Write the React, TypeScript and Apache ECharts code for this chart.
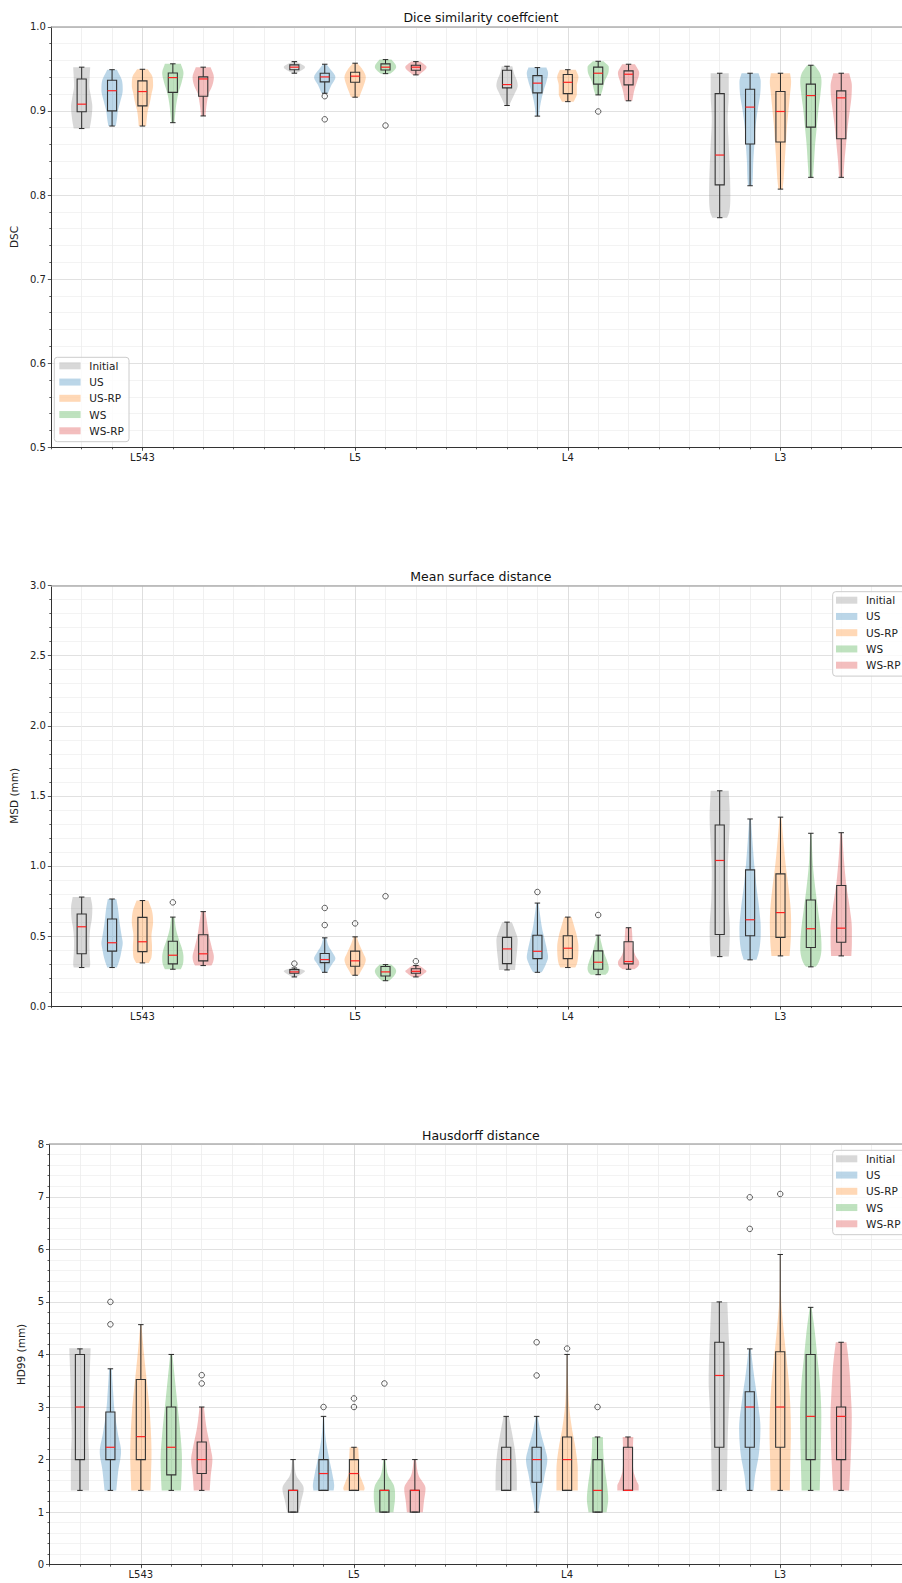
import React, { useEffect, useRef } from 'react';
import * as echarts from 'echarts';

// ---------------- data ----------------
const groups = ['L543', 'L5', 'L4', 'L3'];
const methods = ['Initial', 'US', 'US-RP', 'WS', 'WS-RP'];
const groupCenters = [0, 7, 14, 21];
const methodOffsets = [-2, -1, 0, 1, 2];

const titles = ['Dice similarity coeffcient', 'Mean surface distance', 'Hausdorff distance'];
const yNames = ['DSC', 'MSD (mm)', 'HD99 (mm)'];
const yMins = [0.5, 0, 0];
const yMaxs = [1.0, 3.0, 8];
const yIntervals = [0.1, 0.5, 1];
const yDecimals = [1, 1, 0];

// box stats: [whiskerLow, q1, median, q3, whiskerHigh], group-major / method-minor
const dscBoxes = [
  [0.879, 0.899, 0.908, 0.938, 0.952],
  [0.882, 0.900, 0.924, 0.9365, 0.949],
  [0.882, 0.906, 0.923, 0.9357, 0.9495],
  [0.886, 0.922, 0.9396, 0.945, 0.956],
  [0.894, 0.9175, 0.938, 0.9404, 0.952],
  [0.9448, 0.949, 0.952, 0.9547, 0.9586],
  [0.921, 0.9345, 0.9404, 0.9448, 0.9555],
  [0.9163, 0.934, 0.9413, 0.946, 0.9567],
  [0.9443, 0.9487, 0.952, 0.9559, 0.961],
  [0.9428, 0.9484, 0.952, 0.9543, 0.9586],
  [0.9064, 0.9274, 0.9313, 0.9484, 0.9531],
  [0.8938, 0.9214, 0.933, 0.942, 0.9515],
  [0.911, 0.9206, 0.934, 0.9432, 0.949],
  [0.919, 0.9318, 0.9448, 0.952, 0.959],
  [0.912, 0.931, 0.9436, 0.9476, 0.9555],
  [0.773, 0.812, 0.8475, 0.9206, 0.9448],
  [0.811, 0.8606, 0.9045, 0.9258, 0.9448],
  [0.807, 0.863, 0.8993, 0.923, 0.9448],
  [0.821, 0.8807, 0.9182, 0.9318, 0.9543],
  [0.821, 0.8669, 0.9155, 0.9238, 0.9448],
];
// outliers: [groupIndex, methodIndex, value]
const dscOutliers = [
  [1, 1, 0.9175], [1, 1, 0.890], [1, 3, 0.8826], [2, 3, 0.8993],
];
// violin profiles: [value, relative width]
const dscViolins = [
  [[0.952, 0.8], [0.94, 0.75], [0.93, 0.72], [0.915, 0.9], [0.905, 1.0], [0.89, 0.9], [0.879, 0.75]],
  [[0.949, 0.45], [0.935, 0.95], [0.925, 1.0], [0.91, 0.75], [0.90, 0.55], [0.89, 0.45], [0.882, 0.35]],
  [[0.9495, 0.5], [0.94, 0.95], [0.93, 1.0], [0.92, 0.85], [0.91, 0.7], [0.90, 0.5], [0.89, 0.4], [0.882, 0.35]],
  [[0.956, 0.75], [0.945, 1.0], [0.935, 0.85], [0.92, 0.5], [0.91, 0.35], [0.90, 0.25], [0.886, 0.15]],
  [[0.952, 0.7], [0.94, 1.0], [0.93, 0.85], [0.92, 0.5], [0.91, 0.35], [0.90, 0.25], [0.894, 0.2]],
  [[0.9586, 0.2], [0.952, 1.0], [0.9448, 0.2]],
  [[0.9555, 0.15], [0.95, 0.5], [0.94, 1.0], [0.93, 0.6], [0.921, 0.3]],
  [[0.9567, 0.2], [0.95, 0.65], [0.94, 1.0], [0.93, 0.8], [0.92, 0.5], [0.9163, 0.4]],
  [[0.961, 0.55], [0.955, 0.95], [0.952, 1.0], [0.948, 0.8], [0.9443, 0.45]],
  [[0.9586, 0.45], [0.952, 1.0], [0.9428, 0.3]],
  [[0.9531, 0.5], [0.945, 0.65], [0.935, 0.95], [0.93, 1.0], [0.92, 0.7], [0.912, 0.4], [0.9064, 0.2]],
  [[0.9515, 0.85], [0.945, 1.0], [0.935, 0.85], [0.925, 0.6], [0.915, 0.4], [0.905, 0.25], [0.8938, 0.15]],
  [[0.949, 0.75], [0.94, 1.0], [0.93, 0.85], [0.92, 0.85], [0.911, 0.55]],
  [[0.959, 0.5], [0.952, 1.0], [0.945, 0.95], [0.935, 0.6], [0.925, 0.4], [0.919, 0.25]],
  [[0.9555, 0.6], [0.945, 1.0], [0.935, 0.8], [0.925, 0.55], [0.912, 0.35]],
  [[0.9448, 0.85], [0.92, 0.85], [0.89, 0.75], [0.86, 0.85], [0.83, 0.95], [0.80, 1.0], [0.78, 0.9], [0.773, 0.7]],
  [[0.9448, 0.8], [0.935, 1.0], [0.92, 0.95], [0.90, 0.7], [0.88, 0.5], [0.86, 0.4], [0.84, 0.3], [0.82, 0.25], [0.811, 0.2]],
  [[0.9448, 0.9], [0.935, 1.0], [0.92, 0.9], [0.90, 0.75], [0.88, 0.6], [0.86, 0.5], [0.84, 0.4], [0.82, 0.3], [0.807, 0.2]],
  [[0.9543, 0.35], [0.945, 0.85], [0.935, 1.0], [0.92, 0.9], [0.90, 0.7], [0.88, 0.55], [0.86, 0.4], [0.84, 0.3], [0.821, 0.2]],
  [[0.9448, 0.75], [0.93, 1.0], [0.915, 0.95], [0.90, 0.8], [0.88, 0.6], [0.86, 0.45], [0.84, 0.3], [0.821, 0.2]],
];

const msdBoxes = [
  [0.275, 0.373, 0.566, 0.657, 0.778],
  [0.275, 0.392, 0.452, 0.621, 0.764],
  [0.308, 0.389, 0.459, 0.633, 0.753],
  [0.263, 0.301, 0.363, 0.463, 0.635],
  [0.289, 0.323, 0.373, 0.509, 0.674],
  [0.208, 0.234, 0.244, 0.260, 0.272],
  [0.241, 0.310, 0.332, 0.375, 0.487],
  [0.22, 0.284, 0.323, 0.392, 0.494],
  [0.181, 0.215, 0.244, 0.282, 0.296],
  [0.208, 0.234, 0.248, 0.267, 0.289],
  [0.258, 0.303, 0.408, 0.490, 0.599],
  [0.241, 0.339, 0.391, 0.506, 0.735],
  [0.275, 0.339, 0.413, 0.502, 0.635],
  [0.224, 0.263, 0.313, 0.394, 0.506],
  [0.263, 0.301, 0.318, 0.459, 0.559],
  [0.353, 0.511, 1.039, 1.292, 1.536],
  [0.33, 0.502, 0.616, 0.972, 1.335],
  [0.358, 0.49, 0.667, 0.943, 1.348],
  [0.28, 0.418, 0.552, 0.757, 1.233],
  [0.358, 0.456, 0.556, 0.86, 1.237],
];
const msdOutliers = [
  [0, 3, 0.74], [1, 0, 0.303], [1, 1, 0.70], [1, 1, 0.578], [1, 2, 0.59],
  [1, 3, 0.784], [1, 4, 0.32], [2, 1, 0.814], [2, 3, 0.65],
];
const msdViolins = [
  [[0.778, 0.85], [0.70, 1.0], [0.62, 0.95], [0.55, 0.8], [0.45, 0.72], [0.37, 0.75], [0.30, 0.8], [0.275, 0.75]],
  [[0.764, 0.4], [0.70, 0.55], [0.60, 0.7], [0.50, 0.9], [0.45, 1.0], [0.40, 0.9], [0.33, 0.7], [0.275, 0.45]],
  [[0.753, 0.55], [0.68, 0.9], [0.60, 1.0], [0.50, 0.85], [0.42, 0.9], [0.35, 0.85], [0.308, 0.6]],
  [[0.635, 0.15], [0.55, 0.3], [0.48, 0.55], [0.40, 0.9], [0.35, 1.0], [0.30, 0.95], [0.263, 0.75]],
  [[0.674, 0.2], [0.60, 0.35], [0.50, 0.55], [0.42, 0.8], [0.35, 1.0], [0.30, 0.85], [0.289, 0.75]],
  [[0.272, 0.3], [0.25, 1.0], [0.235, 0.8], [0.208, 0.2]],
  [[0.487, 0.15], [0.43, 0.35], [0.38, 0.75], [0.34, 1.0], [0.30, 0.7], [0.27, 0.45], [0.241, 0.25]],
  [[0.494, 0.15], [0.44, 0.4], [0.38, 0.75], [0.33, 1.0], [0.29, 0.85], [0.25, 0.55], [0.22, 0.35]],
  [[0.296, 0.55], [0.27, 0.9], [0.25, 1.0], [0.22, 0.85], [0.195, 0.55], [0.181, 0.35]],
  [[0.289, 0.35], [0.26, 0.85], [0.25, 1.0], [0.23, 0.75], [0.208, 0.35]],
  [[0.599, 0.45], [0.54, 0.75], [0.47, 1.0], [0.40, 0.95], [0.33, 0.85], [0.258, 0.75]],
  [[0.735, 0.1], [0.65, 0.25], [0.55, 0.45], [0.47, 0.7], [0.40, 0.9], [0.35, 1.0], [0.30, 0.8], [0.26, 0.55], [0.241, 0.4]],
  [[0.635, 0.35], [0.57, 0.6], [0.50, 0.85], [0.42, 1.0], [0.34, 0.95], [0.30, 0.85], [0.275, 0.7]],
  [[0.506, 0.12], [0.45, 0.3], [0.38, 0.55], [0.32, 0.85], [0.27, 1.0], [0.24, 0.9], [0.224, 0.7]],
  [[0.559, 0.3], [0.50, 0.35], [0.42, 0.4], [0.36, 0.65], [0.31, 1.0], [0.28, 0.85], [0.263, 0.55]],
  [[1.536, 0.85], [1.35, 0.95], [1.15, 0.85], [0.95, 0.75], [0.75, 0.8], [0.55, 0.95], [0.40, 0.9], [0.353, 0.85]],
  [[1.335, 0.08], [1.2, 0.2], [1.0, 0.4], [0.85, 0.6], [0.70, 0.85], [0.55, 1.0], [0.45, 0.95], [0.38, 0.8], [0.33, 0.6]],
  [[1.348, 0.08], [1.2, 0.25], [1.0, 0.5], [0.85, 0.75], [0.70, 0.95], [0.60, 1.0], [0.45, 0.95], [0.358, 0.85]],
  [[1.233, 0.05], [1.0, 0.2], [0.85, 0.4], [0.70, 0.65], [0.55, 0.9], [0.42, 1.0], [0.35, 0.9], [0.30, 0.65], [0.28, 0.45]],
  [[1.237, 0.08], [1.0, 0.3], [0.85, 0.5], [0.70, 0.8], [0.55, 1.0], [0.45, 1.0], [0.358, 0.95]],
];

const hdBoxes = [
  [1.414, 2.0, 3.0, 4.0, 4.106],
  [1.414, 2.0, 2.234, 2.904, 3.727],
  [1.414, 2.0, 2.436, 3.524, 4.567],
  [1.414, 1.708, 2.234, 3.0, 4.0],
  [1.414, 1.734, 2.0, 2.334, 3.0],
  [1.0, 1.0, 1.414, 1.414, 2.0],
  [1.414, 1.414, 1.734, 2.0, 2.822],
  [1.414, 1.414, 1.734, 2.0, 2.234],
  [1.0, 1.0, 1.414, 1.414, 2.0],
  [1.0, 1.0, 1.414, 1.414, 2.0],
  [1.414, 1.414, 2.0, 2.234, 2.822],
  [1.0, 1.569, 2.0, 2.234, 2.822],
  [1.414, 1.414, 2.0, 2.43, 4.0],
  [1.0, 1.0, 1.414, 2.0, 2.43],
  [1.414, 1.414, 1.414, 2.234, 2.43],
  [1.414, 2.234, 3.6, 4.232, 5.0],
  [1.414, 2.234, 3.0, 3.29, 4.106],
  [1.414, 2.234, 3.0, 4.05, 5.902],
  [1.414, 2.0, 2.822, 4.0, 4.896],
  [1.414, 2.0, 2.822, 3.0, 4.232],
];
const hdOutliers = [
  [0, 1, 5.0], [0, 1, 4.573], [0, 4, 3.606], [0, 4, 3.448],
  [1, 1, 3.0], [1, 2, 3.0], [1, 2, 3.163], [1, 3, 3.448],
  [2, 1, 4.232], [2, 1, 3.6], [2, 2, 4.112], [2, 3, 3.0],
  [3, 1, 6.99], [3, 1, 6.389], [3, 2, 7.053],
];
const hdViolins = [
  [[4.12, 1.0], [3.5, 0.9], [3.0, 0.85], [2.5, 0.78], [2.0, 0.85], [1.414, 0.85]],
  [[3.73, 0.12], [3.3, 0.25], [2.9, 0.4], [2.5, 0.7], [2.15, 1.0], [1.8, 0.75], [1.414, 0.55]],
  [[4.567, 0.05], [4.0, 0.3], [3.5, 0.55], [3.0, 0.8], [2.5, 0.95], [2.1, 1.0], [1.7, 0.95], [1.414, 0.9]],
  [[4.0, 0.1], [3.5, 0.35], [3.0, 0.6], [2.5, 0.85], [2.0, 1.0], [1.6, 0.95], [1.414, 0.9]],
  [[3.0, 0.2], [2.6, 0.45], [2.2, 0.85], [2.0, 1.0], [1.7, 0.85], [1.414, 0.75]],
  [[2.0, 0.08], [1.7, 0.3], [1.45, 1.0], [1.2, 0.75], [1.0, 0.55]],
  [[2.822, 0.05], [2.4, 0.2], [2.0, 0.55], [1.7, 0.85], [1.5, 1.0], [1.414, 0.95]],
  [[2.236, 0.4], [2.0, 0.45], [1.75, 0.5], [1.55, 0.85], [1.45, 1.0], [1.414, 0.95]],
  [[2.0, 0.1], [1.7, 0.35], [1.5, 0.9], [1.3, 1.0], [1.0, 0.85]],
  [[2.0, 0.1], [1.7, 0.35], [1.45, 1.0], [1.2, 0.85], [1.0, 0.75]],
  [[2.822, 0.25], [2.5, 0.55], [2.2, 0.8], [1.9, 0.95], [1.6, 1.0], [1.414, 1.0]],
  [[2.822, 0.08], [2.5, 0.4], [2.2, 0.8], [2.0, 1.0], [1.7, 0.75], [1.414, 0.5], [1.2, 0.3], [1.0, 0.15]],
  [[4.0, 0.03], [3.5, 0.08], [3.0, 0.2], [2.6, 0.45], [2.2, 0.8], [1.8, 1.0], [1.414, 1.0]],
  [[2.43, 0.5], [2.1, 0.55], [1.8, 0.7], [1.5, 0.9], [1.25, 1.0], [1.0, 0.85]],
  [[2.43, 0.5], [2.1, 0.45], [1.8, 0.5], [1.6, 0.8], [1.5, 1.0], [1.414, 1.0]],
  [[5.0, 0.75], [4.5, 0.85], [4.0, 0.95], [3.5, 1.0], [3.0, 0.9], [2.5, 0.8], [2.0, 0.75], [1.414, 0.7]],
  [[4.106, 0.1], [3.6, 0.4], [3.1, 0.75], [2.6, 1.0], [2.1, 0.85], [1.7, 0.5], [1.414, 0.35]],
  [[5.902, 0.02], [5.0, 0.1], [4.5, 0.3], [4.0, 0.55], [3.5, 0.8], [3.0, 0.95], [2.5, 1.0], [2.0, 0.95], [1.414, 0.9]],
  [[4.896, 0.08], [4.5, 0.35], [4.0, 0.6], [3.5, 0.85], [2.8, 1.0], [2.2, 0.95], [1.8, 0.9], [1.414, 0.85]],
  [[4.232, 0.5], [3.8, 0.75], [3.3, 0.9], [2.8, 1.0], [2.3, 0.95], [1.8, 0.85], [1.414, 0.75]],
];

const panelBoxes = [dscBoxes, msdBoxes, hdBoxes];
const panelOutliers = [dscOutliers, msdOutliers, hdOutliers];
const panelViolins = [dscViolins, msdViolins, hdViolins];

// ---------------- style / layout ----------------
const fillColors = [
  'rgba(127,127,127,0.3)',
  'rgba(31,119,180,0.3)',
  'rgba(255,127,14,0.3)',
  'rgba(44,160,44,0.3)',
  'rgba(214,39,40,0.3)',
];
const FONT = '"DejaVu Sans", "Liberation Sans", sans-serif';
const W = 902;
const H = 1583;
const gridLeft = 49.5;
const gridRight = -10.3;
const gridHeight = 420.5;
const panelTops = [26.8, 585.6, 1144.2];
const nameGaps = [27, 27, 16.8];
const X_MIN = -3;
const X_MAX = 25;
const VHALF = 0.35;
const BHALF = 0.15;
const CAPHALF = 0.09;
const legendBoxes = [
  { left: 54.3, top: 357.3, patchOff: 5 },
  { left: 832.7, top: 591.7, patchOff: 3.3 },
  { left: 832.7, top: 1150.3, patchOff: 3.3 },
];

function sampleProfile(profile: number[][]) {
  const pts = profile.slice().sort((a, b) => a[0] - b[0]);
  const n = pts.length;
  const xs = pts.map((p) => p[0]);
  const ys = pts.map((p) => p[1]);
  if (n < 2) return pts;
  const d: number[] = [];
  for (let i = 0; i < n - 1; i++) d.push((ys[i + 1] - ys[i]) / (xs[i + 1] - xs[i]));
  const m: number[] = new Array(n).fill(0);
  m[0] = d[0];
  m[n - 1] = d[n - 2];
  for (let i = 1; i < n - 1; i++) {
    m[i] = d[i - 1] * d[i] <= 0 ? 0 : (d[i - 1] + d[i]) / 2;
  }
  for (let i = 0; i < n - 1; i++) {
    if (d[i] === 0) {
      m[i] = 0;
      m[i + 1] = 0;
    } else {
      const a = m[i] / d[i];
      const b = m[i + 1] / d[i];
      const s = a * a + b * b;
      if (s > 9) {
        const t = 3 / Math.sqrt(s);
        m[i] = t * a * d[i];
        m[i + 1] = t * b * d[i];
      }
    }
  }
  const out: number[][] = [];
  const steps = 10;
  for (let i = 0; i < n - 1; i++) {
    const h = xs[i + 1] - xs[i];
    for (let k = 0; k < steps; k++) {
      const t = k / steps;
      const t2 = t * t;
      const t3 = t2 * t;
      const h00 = 2 * t3 - 3 * t2 + 1;
      const h10 = t3 - 2 * t2 + t;
      const h01 = -2 * t3 + 3 * t2;
      const h11 = t3 - t2;
      const w = h00 * ys[i] + h10 * h * m[i] + h01 * ys[i + 1] + h11 * h * m[i + 1];
      out.push([xs[i] + t * h, Math.max(0, w)]);
    }
  }
  out.push([xs[n - 1], ys[n - 1]]);
  return out;
}

function positionOf(i: number) {
  return groupCenters[Math.floor(i / methods.length)] + methodOffsets[i % methods.length];
}

function makeViolinSeries(k: number) {
  const boxes = panelBoxes[k];
  const violins = panelViolins[k];
  return {
    type: 'custom',
    name: 'violins-' + k,
    xAxisIndex: 3 * k,
    yAxisIndex: k,
    z: 2,
    encode: { x: 0, y: 1 },
    data: boxes.map((b, i) => [positionOf(i), b[2], i]),
    renderItem: (params: any, api: any) => {
      const pos = api.value(0);
      const i = api.value(2);
      const b = boxes[i];
      const samples = sampleProfile(violins[i]);
      const leftSide = samples.map(([v, w]) => api.coord([pos - w * VHALF, v]));
      const rightSide = samples
        .slice()
        .reverse()
        .map(([v, w]) => api.coord([pos + w * VHALF, v]));
      const [lo, q1, med, q3, hi] = b;
      const c = (x: number, v: number) => api.coord([x, v]);
      const line = (p1: number[], p2: number[], stroke: string, lw: number) => ({
        type: 'line',
        shape: { x1: p1[0], y1: p1[1], x2: p2[0], y2: p2[1] },
        style: { stroke, lineWidth: lw },
      });
      const tl = c(pos - BHALF, q3);
      const br = c(pos + BHALF, q1);
      const dark = '#2a2a2a';
      return {
        type: 'group',
        children: [
          { type: 'polygon', shape: { points: leftSide.concat(rightSide) }, style: { fill: fillColors[i % 5] } },
          line(c(pos, q3), c(pos, hi), dark, 1),
          line(c(pos, q1), c(pos, lo), dark, 1),
          line(c(pos - CAPHALF, hi), c(pos + CAPHALF, hi), dark, 1),
          line(c(pos - CAPHALF, lo), c(pos + CAPHALF, lo), dark, 1),
          {
            type: 'rect',
            shape: { x: tl[0], y: tl[1], width: br[0] - tl[0], height: br[1] - tl[1] },
            style: { fill: 'none', stroke: '#333', lineWidth: 1.1 },
          },
          line(c(pos - BHALF, med), c(pos + BHALF, med), '#f22', 1.2),
        ],
      };
    },
  };
}

function makeOutlierSeries(k: number) {
  return {
    type: 'scatter',
    name: 'outliers-' + k,
    xAxisIndex: 3 * k,
    yAxisIndex: k,
    z: 3,
    symbol: 'circle',
    symbolSize: 5.5,
    itemStyle: { color: 'rgba(0,0,0,0)', borderColor: '#333', borderWidth: 1 },
    data: panelOutliers[k].map((o) => [groupCenters[o[0]] + methodOffsets[o[1]], o[2]]),
  };
}

function buildOption() {
  const catData: string[] = [];
  for (let v = X_MIN; v <= X_MAX; v++) {
    const gi = groupCenters.indexOf(v);
    catData.push(gi >= 0 ? groups[gi] : '');
  }
  const isMajor = (index: number, value: string) => catData[index] !== '';

  const grid: any[] = [];
  const xAxis: any[] = [];
  const yAxis: any[] = [];
  const series: any[] = [];
  const graphic: any[] = [];
  const centerX = (gridLeft + (W - gridRight)) / 2;

  for (let k = 0; k < 3; k++) {
    grid.push({ left: gridLeft, right: gridRight, top: panelTops[k], height: gridHeight, containLabel: false });
    xAxis.push({
      type: 'value',
      gridIndex: k,
      position: 'bottom',
      min: X_MIN,
      max: X_MAX,
      interval: 1,
      axisLine: { show: true, onZero: false, lineStyle: { color: '#333', width: 1 } },
      axisTick: { show: true, length: 2, lineStyle: { color: '#333', width: 0.8 } },
      axisLabel: { show: false },
      splitLine: { show: true, lineStyle: { color: '#ececec', width: 0.8 } },
    });
    xAxis.push({
      type: 'category',
      gridIndex: k,
      position: 'bottom',
      boundaryGap: false,
      data: catData,
      axisLine: { show: false, onZero: false },
      axisTick: { show: true, length: 3.5, interval: isMajor, lineStyle: { color: '#333', width: 0.8 } },
      axisLabel: { show: true, interval: isMajor, margin: 5, fontSize: 10, fontFamily: FONT, color: '#222' },
      splitLine: { show: true, interval: isMajor, lineStyle: { color: '#d9d9d9', width: 0.8 } },
    });
    xAxis.push({
      type: 'value',
      gridIndex: k,
      position: 'top',
      min: X_MIN,
      max: X_MAX,
      axisLine: { show: true, onZero: false, lineStyle: { color: '#b0b0b0', width: 1.5 } },
      axisTick: { show: false },
      axisLabel: { show: false },
      splitLine: { show: false },
    });
    const dec = yDecimals[k];
    yAxis.push({
      type: 'value',
      gridIndex: k,
      position: 'left',
      min: yMins[k],
      max: yMaxs[k],
      interval: yIntervals[k],
      name: yNames[k],
      nameLocation: 'middle',
      nameGap: nameGaps[k],
      nameTextStyle: { fontSize: 10.5, fontFamily: FONT, color: '#222' },
      axisLine: { show: true, onZero: false, lineStyle: { color: '#333', width: 1 } },
      axisTick: { show: true, length: 3.5, lineStyle: { color: '#333', width: 0.8 } },
      minorTick: { show: true, splitNumber: 5, length: 2, lineStyle: { color: '#333', width: 0.8 } },
      axisLabel: {
        fontSize: 10,
        fontFamily: FONT,
        color: '#222',
        margin: 5.5,
        formatter: (v: number) => v.toFixed(dec),
      },
      splitLine: { show: true, lineStyle: { color: '#d9d9d9', width: 0.8 } },
      minorSplitLine: { show: true, lineStyle: { color: '#f0f0f0', width: 0.8 } },
    });
    series.push(makeViolinSeries(k));
    series.push(makeOutlierSeries(k));

    graphic.push({
      type: 'text',
      x: centerX,
      y: panelTops[k] - 9.2,
      z: 100,
      style: {
        text: titles[k],
        fill: '#111',
        fontSize: 12.5,
        fontFamily: FONT,
        align: 'center',
        verticalAlign: 'middle',
        textAlign: 'center',
        textVerticalAlign: 'middle',
      },
    });

    const lb = legendBoxes[k];
    graphic.push({
      type: 'rect',
      z: 100,
      shape: { x: lb.left, y: lb.top, width: 74.7, height: 84.4, r: 3 },
      style: { fill: 'rgba(255,255,255,0.8)', stroke: '#cccccc', lineWidth: 1 },
    });
    methods.forEach((m, i) => {
      const cy = lb.top + 8.5 + 16.25 * i;
      const px = lb.left + lb.patchOff;
      graphic.push({
        type: 'rect',
        z: 101,
        shape: { x: px, y: cy - 3.5, width: 21.3, height: 7 },
        style: { fill: fillColors[i] },
      });
      graphic.push({
        type: 'text',
        z: 101,
        x: px + 30,
        y: cy,
        style: {
          text: m,
          fill: '#222',
          fontSize: 10.5,
          fontFamily: FONT,
          align: 'left',
          verticalAlign: 'middle',
          textAlign: 'left',
          textVerticalAlign: 'middle',
        },
      });
    });
  }

  return {
    animation: false,
    backgroundColor: '#ffffff',
    grid,
    xAxis,
    yAxis,
    series,
    graphic,
  };
}

export default function App() {
  const ref = useRef<HTMLDivElement>(null);
  useEffect(() => {
    if (!ref.current) return;
    const chart = echarts.init(ref.current, undefined, { renderer: 'svg' });
    chart.setOption(buildOption() as any);
    return () => {
      chart.dispose();
    };
  }, []);
  return (
    <div style={{ position: 'absolute', left: 0, top: 0, width: W, height: H, overflow: 'hidden', background: '#fff' }}>
      <div ref={ref} style={{ width: W, height: H }} />
    </div>
  );
}
